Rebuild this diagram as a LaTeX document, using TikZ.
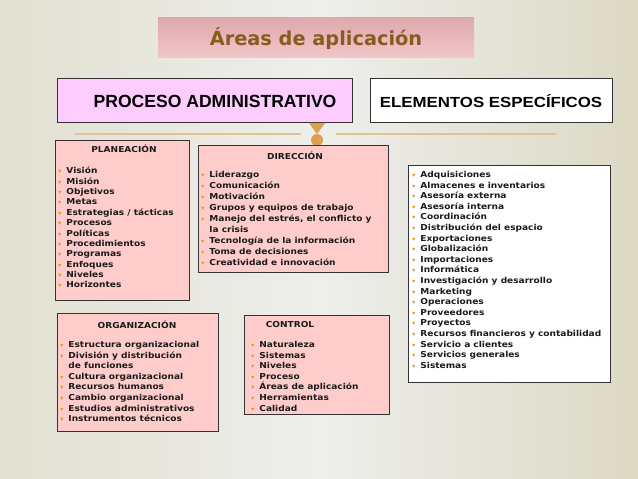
\documentclass[tikz,border=0pt]{standalone}
\usepackage{fontspec}
\usepackage{graphicx}
\usepackage{xcolor}
\setmainfont{DejaVu Sans}
\newfontfamily\listfont[FakeStretch=1.1]{DejaVu Sans}
\newfontfamily\arialfont{Liberation Sans}
\newfontfamily\arialwide[FakeStretch=1.15]{Liberation Sans}

\definecolor{bgleft}{HTML}{E2E0D1}
\definecolor{bgmid}{HTML}{EEEEEC}
\definecolor{bgright}{HTML}{DCD9C4}
\definecolor{bandtop}{HTML}{DDA9AD}
\definecolor{bandbot}{HTML}{F3C6CA}
\definecolor{titlecol}{HTML}{8A5A1E}
\definecolor{procfill}{HTML}{FFCCFF}
\definecolor{listfill}{HTML}{FFCCCC}
\definecolor{ornacol}{HTML}{DDA050}
\definecolor{linecol}{HTML}{E2C291}
\definecolor{bulcol}{HTML}{E39A2A}
\definecolor{txtcol}{HTML}{1A1A1A}

% bullet and list lines
\newcommand{\bul}{\makebox[7pt][l]{\textcolor{bulcol}{\scalebox{0.75}{▾}}}}
\newcommand{\itm}[1]{\bul#1\\}
\newcommand{\cnt}[1]{\hspace*{7pt}#1\\}

\begin{document}
\begin{tikzpicture}[x=0.03cm,y=0.03cm,
  boxline/.style={draw=black!80,line width=0.8pt},
  headtxt/.style={font=\listfont\fontsize{7}{8}\selectfont\bfseries,text=txtcol,inner sep=0pt},
  listtxt/.style={font=\listfont\fontsize{7}{9.05}\selectfont\bfseries,text=txtcol,align=left,anchor=north west,inner sep=0pt}]
\useasboundingbox (0,0) rectangle (638,-479);
\shade[left color=bgleft,right color=bgright,middle color=bgmid] (0,0) rectangle (638,-479);

% title band
\shade[top color=bandtop,bottom color=bandbot] (158,-18) rectangle (474,-58);
\node[font=\fontsize{16.5}{19}\selectfont\bfseries,text=titlecol] (titulo) at (316,-39) {Áreas de aplicación};

% top boxes
\draw[boxline,fill=procfill] (57,-78) rectangle (352,-122);
\node[font=\arialfont\fontsize{15}{17}\selectfont\bfseries] (proceso) at (215,-101) {PROCESO ADMINISTRATIVO};
\draw[boxline,fill=white] (370,-78) rectangle (612,-122);
\node[font=\arialwide\fontsize{12.5}{14}\selectfont\bfseries] (elementos) at (491,-101) {ELEMENTOS ESPECÍFICOS};

% ornament
\draw[linecol,line width=0.9pt] (75,-134) -- (301,-134);
\draw[linecol,line width=0.9pt] (336,-134) -- (556,-134);
\fill[ornacol] (309,-123) -- (325,-123) -- (317,-134) -- cycle;
\fill[ornacol] (317,-140) circle (6);

% planeacion
\draw[boxline,fill=listfill] (55,-140) rectangle (189,-300);
\node[headtxt] (planeacion) at (124,-149) {PLANEACIÓN};
\node[listtxt,font=\listfont\fontsize{7}{8.85}\selectfont\bfseries] (plantxt) at (58,-167) {%
\itm{Visión}\itm{Misión}\itm{Objetivos}\itm{Metas}\itm{Estrategias / tácticas}%
\itm{Procesos}\itm{Políticas}\itm{Procedimientos}\itm{Programas}\itm{Enfoques}%
\itm{Niveles}\bul Horizontes};

% direccion
\draw[boxline,fill=listfill] (198,-145) rectangle (388,-272);
\node[headtxt] (direccion) at (295,-156) {DIRECCIÓN};
\node[listtxt,font=\listfont\fontsize{7}{9.35}\selectfont\bfseries] (dirtxt) at (201,-171) {%
\itm{Liderazgo}\itm{Comunicación}\itm{Motivación}\itm{Grupos y equipos de trabajo}%
\itm{Manejo del estrés, el conflicto y}\cnt{la crisis}\itm{Tecnología de la información}%
\itm{Toma de decisiones}\bul Creatividad e innovación};

% elementos especificos
\draw[boxline,fill=white] (408,-165) rectangle (610,-382);
\node[listtxt] (elemtxt) at (412,-171) {%
\itm{Adquisiciones}\itm{Almacenes e inventarios}\itm{Asesoría externa}\itm{Asesoría interna}%
\itm{Coordinación}\itm{Distribución del espacio}\itm{Exportaciones}\itm{Globalización}%
\itm{Importaciones}\itm{Informática}\itm{Investigación y desarrollo}\itm{Marketing}%
\itm{Operaciones}\itm{Proveedores}\itm{Proyectos}\itm{Recursos financieros y contabilidad}%
\itm{Servicio a clientes}\itm{Servicios generales}\bul Sistemas};

% organizacion
\draw[boxline,fill=listfill] (57,-313) rectangle (218,-431);
\node[headtxt] (organizacion) at (137,-325) {ORGANIZACIÓN};
\node[listtxt] (orgtxt) at (60,-341) {%
\itm{Estructura organizacional}\itm{División y distribución}\cnt{de funciones}%
\itm{Cultura organizacional}\itm{Recursos humanos}\itm{Cambio organizacional}%
\itm{Estudios administrativos}\bul Instrumentos técnicos};

% control
\draw[boxline,fill=listfill] (244,-315) rectangle (389,-414);
\node[headtxt] (control) at (290,-325) {CONTROL};
\node[listtxt] (contxt) at (251,-341) {%
\itm{Naturaleza}\itm{Sistemas}\itm{Niveles}\itm{Proceso}\itm{Áreas de aplicación}%
\itm{Herramientas}\bul Calidad};
\end{tikzpicture}
\end{document}
